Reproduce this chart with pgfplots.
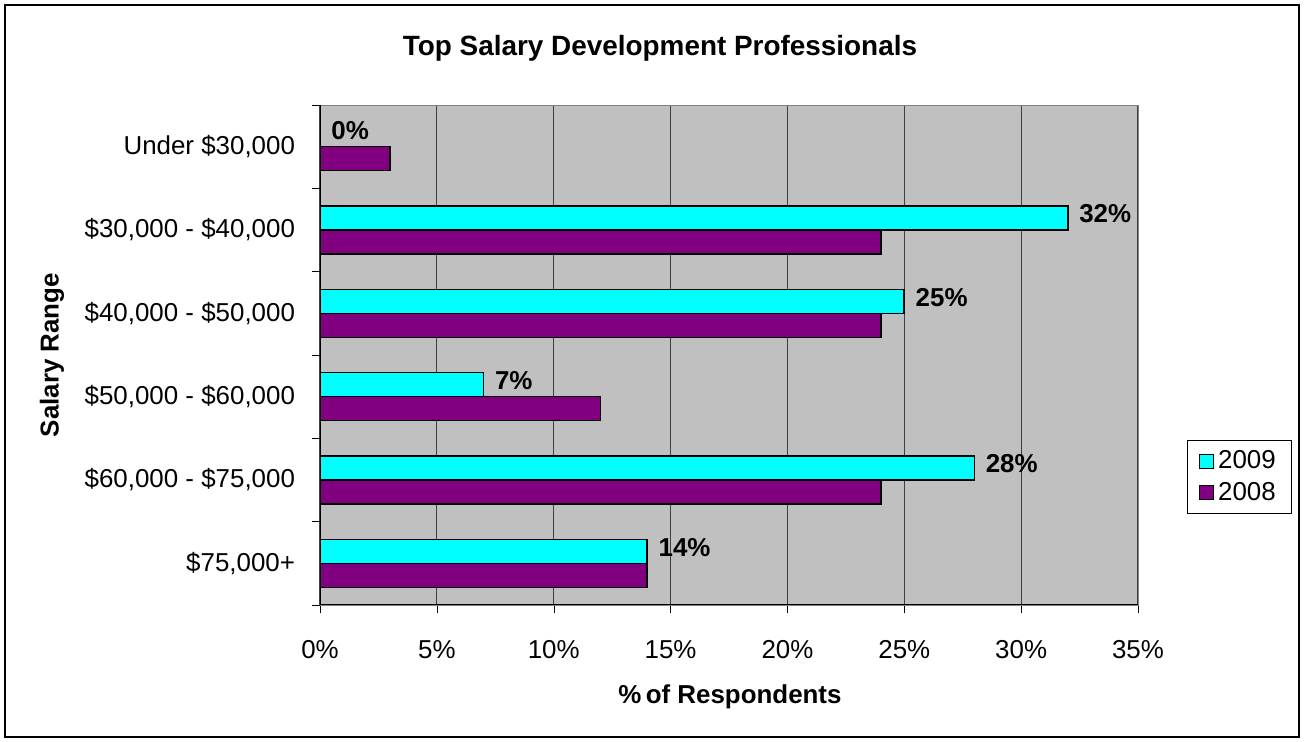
\documentclass[border=0pt]{standalone}
\usepackage{pgfplots}
\pgfplotsset{compat=1.18}
\usepackage{fontspec}
\setmainfont{Liberation Sans}
\definecolor{c2009}{RGB}{0,255,255}
\definecolor{c2008}{RGB}{128,0,128}
\definecolor{plotbg}{RGB}{192,192,192}
\newcommand{\tf}{\fontsize{13}{15.6}\selectfont}
\begin{document}
\tf
\begin{tikzpicture}
\begin{axis}[
  at={(160bp,68.5bp)}, anchor=south west,
  scale only axis, width=409bp, height=250bp,
  xbar, bar width=12bp,
  xmin=0, xmax=35, ymin=-0.5, ymax=5.5,
  xtick={0,5,...,35},
  xticklabel={\pgfmathprintnumber{\tick}\%},
  /pgf/number format/assume math mode=true,
  xmajorgrids, major grid style={draw=black!75, line width=0.6pt},
  major tick length=4bp,
  tick style={draw=black},
  tick align=outside,
  xtick pos=lower, ytick pos=left,
  xticklabel style={yshift=-9bp, font=\tf},
  ytick={-0.5,0.5,1.5,2.5,3.5,4.5,5.5},
  y tick label as interval,
  yticklabels={{\$75,000+},{\$60,000 - \$75,000},{\$50,000 - \$60,000},{\$40,000 - \$50,000},{\$30,000 - \$40,000},{Under \$30,000}},
  yticklabel style={xshift=-4bp, font=\tf},
  axis background/.style={fill=plotbg},
  axis line style={draw=gray},
  legend style={at={(1.124,0.256)}, anchor=center, draw=black, line width=0.5pt,
    font=\tf, row sep=1bp, inner xsep=6bp, inner ysep=3bp},
  legend cell align=left,
  legend image code/.code={\draw[#1, draw=black, line width=0.5pt] (0bp,-3.5bp) rectangle (7bp,3.5bp);},
  point meta=x,
]
\addplot+[bar shift=6bp, fill=c2009, draw=black, line width=0.8pt,
  nodes near coords={\pgfmathprintnumber{\pgfplotspointmeta}\%},
  nodes near coords style={font=\bfseries\tf, anchor=west, xshift=1bp, yshift=2bp, text=black}]
  coordinates {(0,5) (32,4) (25,3) (7,2) (28,1) (14,0)};
\addplot+[bar shift=-6bp, fill=c2008, draw=black, line width=0.8pt]
  coordinates {(3,5) (24,4) (24,3) (12,2) (24,1) (14,0)};
\legend{2009,2008}
\draw[black, line width=0.8pt] (rel axis cs:0,1) -- (rel axis cs:0,0) -- (rel axis cs:1,0);
\end{axis}
\node[font=\bfseries\fontsize{14}{16.8}\selectfont] at (330bp,347bp) {Top Salary Development Professionals};
\node[font=\bfseries\tf] at (365bp,22.5bp) {\%\,of Respondents};
\node[font=\bfseries\tf, rotate=90] at (26bp,193.5bp) {Salary Range};
\draw[black, line width=1bp] (2.5bp,2.5bp) rectangle (649.5bp,368.5bp);
\pgfresetboundingbox
\path[use as bounding box] (0,0) rectangle (652bp,371bp);
\end{tikzpicture}
\end{document}
